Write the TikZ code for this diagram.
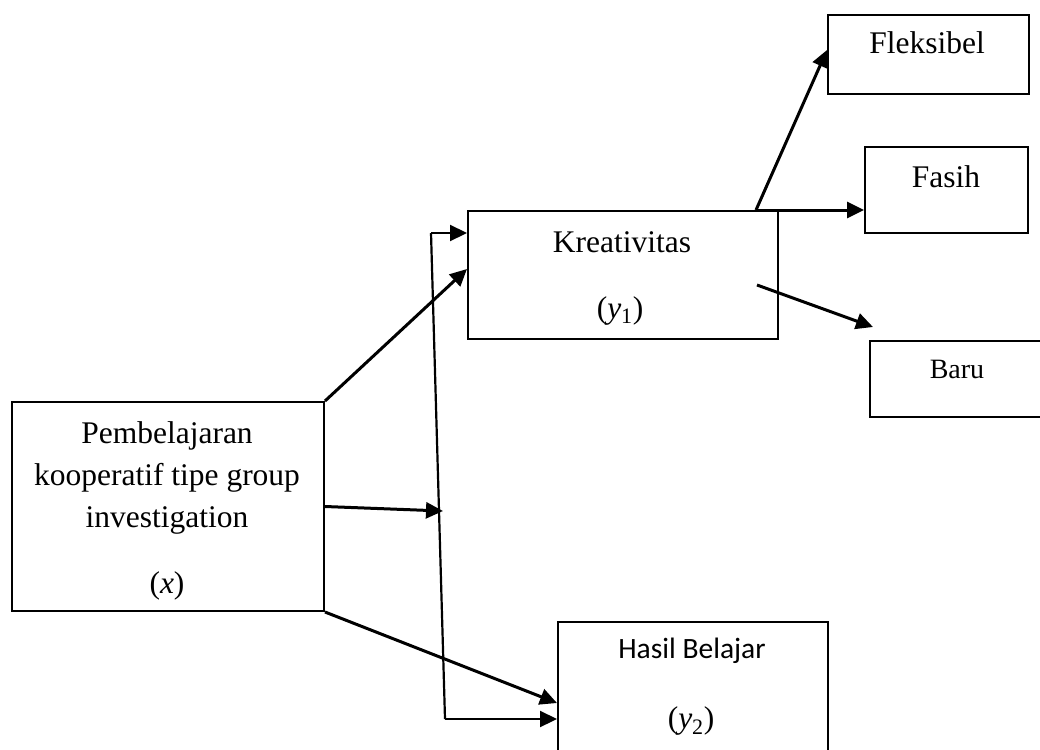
\documentclass[tikz,border=0pt]{standalone}
\usepackage{fontspec}
\setmainfont{Liberation Serif}
\newfontfamily\calfont{Carlito}
\usetikzlibrary{arrows.meta,calc}
\begin{document}
\begin{tikzpicture}[x=1pt,y=-1pt,
  box/.style={draw,line width=2pt,inner sep=0pt,anchor=north west},
  lbl/.style={inner sep=0pt,anchor=base,font=\fontsize{31.5}{42}\selectfont},
  clbl/.style={inner sep=0pt,anchor=base,font=\calfont\fontsize{29.5}{34}\selectfont},
  thickarr/.style={line width=3pt,-{Triangle[length=17pt,width=16pt]}},
  thinarr/.style={line width=2.2pt,-{Triangle[length=17pt,width=16pt]}},
  thinline/.style={line width=2.2pt}]
\useasboundingbox (0,0) rectangle (1040,749);
% boxes
\node[box,minimum width=312pt,minimum height=209pt] (X) at (11,401) {};
\node[box,minimum width=310pt,minimum height=128pt] (K) at (467,210) {};
\node[box,minimum width=201pt,minimum height=79pt] (F) at (827,14) {};
\node[box,minimum width=163pt,minimum height=86pt] (Fa) at (864,146) {};
\node[box,minimum width=200pt,minimum height=76pt] (B) at (869,340) {};
\node[box,minimum width=270pt,minimum height=150pt] (H) at (557,621) {};
% texts
\node[lbl] (t1) at (167,443) {Pembelajaran};
\node[lbl] (t2) at (167,485) {kooperatif tipe group};
\node[lbl] (t3) at (167,527) {investigation};
\node[lbl] (t4) at (167,593) {(\textit{x})};
\node[lbl] (t5) at (622,252) {Kreativitas};
\node[lbl] (t6) at (620,318) {(\textit{y}\textsubscript{1})};
\node[lbl] (t7) at (927,54) {Fleksibel};
\node[lbl] (t8) at (946,187) {Fasih};
\node[lbl,font=\fontsize{28}{32}\selectfont] (t9) at (957,378) {Baru};
\node[clbl] (t10) at (692,658) {Hasil Belajar};
\node[lbl] (t11) at (691,728) {(\textit{y}\textsubscript{2})};
% coordinates
\coordinate (vt) at (431,233);
\coordinate (vb) at (445,719);
\coordinate (vm) at (443,511);
\coordinate (ks) at (756,210);
\coordinate (bs) at (757,285);
\coordinate (be) at (873,327);
% connectors
\draw[thickarr] (X.north east) -- (K.west |- 0,269);
\draw[thickarr] (X.east) -- (vm);
\draw[thickarr] (X.south east) -- (H.west |- 0,703);
\draw[thinline] (vt) -- (vb);
\draw[thinarr] (vt) -- (vt -| K.west);
\draw[thinarr] (vb) -- (vb -| H.west);
\draw[thickarr] (ks) -- (F.west |- 0,50);
\draw[thickarr] (ks) -- (ks -| Fa.west);
\draw[thickarr] (bs) -- (be);
\end{tikzpicture}
\end{document}
